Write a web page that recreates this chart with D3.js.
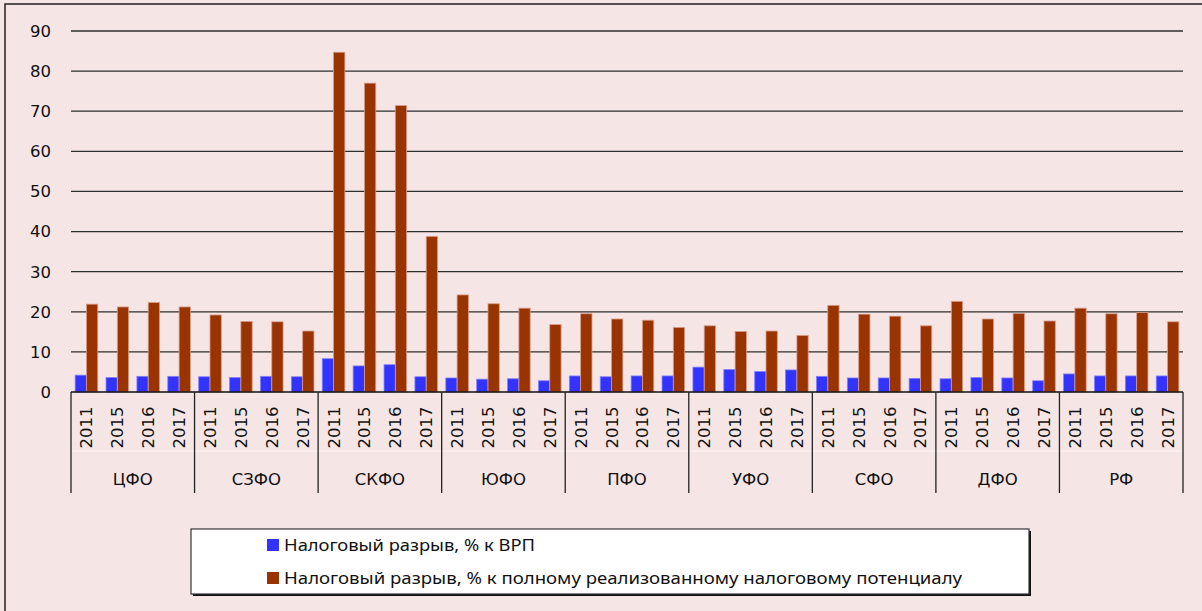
<!DOCTYPE html>
<html>
<head>
<meta charset="utf-8">
<script src="https://d3js.org/d3.v7.min.js"></script>
<style>
  body { margin: 0; background: #f5e5e5; }
  svg { display: block; }
</style>
</head>
<body>
<svg id="chart" width="1202" height="611"></svg>
<script>
// regions and years on the two-level category axis
const regions = ["ЦФО", "СЗФО", "СКФО", "ЮФО", "ПФО", "УФО", "СФО", "ДФО", "РФ"];
const years = ["2011", "2015", "2016", "2017"];

// tax gap, % of GRP (blue)
const gapGrp = [
  4.2, 3.6, 3.9, 3.9,
  3.8, 3.6, 3.9, 3.8,
  8.3, 6.5, 6.8, 3.8,
  3.5, 3.2, 3.3, 2.8,
  4.0, 3.8, 4.0, 4.0,
  6.2, 5.6, 5.1, 5.5,
  3.9, 3.5, 3.5, 3.4,
  3.3, 3.6, 3.5, 2.8,
  4.5, 4.0, 4.0, 4.0
];
// tax gap, % of full realised tax potential (brown)
const gapPotential = [
  21.9, 21.2, 22.3, 21.2,
  19.2, 17.6, 17.5, 15.2,
  84.7, 77.0, 71.4, 38.8,
  24.2, 22.0, 20.9, 16.8,
  19.5, 18.2, 17.9, 16.1,
  16.5, 15.1, 15.2, 14.1,
  21.6, 19.4, 18.9, 16.5,
  22.6, 18.2, 19.6, 17.7,
  20.9, 19.5, 19.8, 17.5
];
const yTicks = [0, 10, 20, 30, 40, 50, 60, 70, 80, 90];
const seriesNames = [
  "Налоговый разрыв, % к ВРП",
  "Налоговый разрыв, % к полному реализованному налоговому потенциалу"
];
const colors = ["#3333ff", "#993300"];

const svg = d3.select("#chart");

// outer chart frame
svg.append("rect")
  .attr("x", 5).attr("y", 4)
  .attr("width", 1210).attr("height", 620)
  .attr("fill", "#f5e5e5")
  .attr("stroke", "#222").attr("stroke-width", 1.5);

const plotL = 71, plotR = 1183, plotT = 31, base = 392;

// flatten categories
const cats = [];
regions.forEach((r, i) => years.forEach((yr, j) => {
  cats.push({ key: r + "|" + yr, region: r, year: yr, idx: i * years.length + j });
}));

const x = d3.scaleBand().domain(cats.map(d => d.key)).range([plotL, plotR]).padding(0);
const y = d3.scaleLinear().domain([0, 90]).range([base, plotT]);

// gridlines
svg.append("g").selectAll("line").data(yTicks.filter(t => t > 0)).enter()
  .append("line")
  .attr("x1", plotL).attr("x2", plotR)
  .attr("y1", d => y(d)).attr("y2", d => y(d))
  .attr("stroke", "#2e2e2e").attr("stroke-width", 1.3);

// y axis labels
svg.append("g").selectAll("text").data(yTicks).enter()
  .append("text")
  .attr("x", 51).attr("y", d => y(d))
  .attr("dy", "0.36em")
  .attr("text-anchor", "end")
  .attr("font-family", "DejaVu Sans")
  .attr("font-size", 16.5)
  .attr("fill", "#111")
  .text(d => d);

// bars
const bw = x.bandwidth();
const barW = 11.3;
const off = (bw - 2 * barW) / 2;

svg.append("g").selectAll("rect").data(cats).enter()
  .append("rect")
  .attr("x", d => x(d.key) + off)
  .attr("y", d => y(gapGrp[d.idx]))
  .attr("width", barW)
  .attr("height", d => base - y(gapGrp[d.idx]))
  .attr("fill", colors[0])
  .attr("stroke", "#8080ff").attr("stroke-width", 0.8);

svg.append("g").selectAll("rect").data(cats).enter()
  .append("rect")
  .attr("x", d => x(d.key) + off + barW)
  .attr("y", d => y(gapPotential[d.idx]))
  .attr("width", barW)
  .attr("height", d => base - y(gapPotential[d.idx]))
  .attr("fill", colors[1])
  .attr("stroke", "#d99c88").attr("stroke-width", 0.8);

// baseline
svg.append("line")
  .attr("x1", plotL).attr("x2", plotR)
  .attr("y1", base).attr("y2", base)
  .attr("stroke", "#111").attr("stroke-width", 1.5);

// faint divider between the two label rows
svg.append("line")
  .attr("x1", plotL).attr("x2", plotR)
  .attr("y1", 451).attr("y2", 451)
  .attr("stroke", "#fbf3f3").attr("stroke-width", 1);

// year labels (rotated)
svg.append("g").selectAll("text").data(cats).enter()
  .append("text")
  .attr("transform", d => "translate(" + (x(d.key) + bw / 2) + ",427.5) rotate(-90)")
  .attr("dy", "0.36em")
  .attr("text-anchor", "middle")
  .attr("font-family", "DejaVu Sans")
  .attr("font-size", 16.5)
  .attr("fill", "#111")
  .text(d => d.year);

// region separators and labels
const groupW = bw * years.length;
const seps = d3.range(regions.length + 1).map(i => plotL + i * groupW);
svg.append("g").selectAll("line").data(seps).enter()
  .append("line")
  .attr("x1", d => d).attr("x2", d => d)
  .attr("y1", base).attr("y2", 493)
  .attr("stroke", "#222").attr("stroke-width", 1.3);

svg.append("g").selectAll("text").data(regions).enter()
  .append("text")
  .attr("x", (d, i) => plotL + i * groupW + groupW / 2)
  .attr("y", 479)
  .attr("dy", "0.36em")
  .attr("text-anchor", "middle")
  .attr("font-family", "DejaVu Sans")
  .attr("font-size", 16.5)
  .attr("fill", "#111")
  .text(d => d);

// legend
const lg = svg.append("g");
lg.append("rect")
  .attr("x", 193).attr("y", 531)
  .attr("width", 838).attr("height", 65)
  .attr("fill", "#111");
lg.append("rect")
  .attr("x", 191).attr("y", 529)
  .attr("width", 838).attr("height", 65)
  .attr("fill", "#fff")
  .attr("stroke", "#333").attr("stroke-width", 1.2);

const textLens = [251, 678];
const rowBase = [551, 584];
seriesNames.forEach((name, i) => {
  lg.append("rect")
    .attr("x", 267).attr("y", rowBase[i] - 12)
    .attr("width", 12).attr("height", 12)
    .attr("fill", colors[i]);
  lg.append("text")
    .attr("x", 284).attr("y", rowBase[i])
    .attr("font-family", "Noto Sans")
    .attr("font-size", 17)
    .attr("fill", "#111")
    .attr("textLength", textLens[i])
    .attr("lengthAdjust", "spacingAndGlyphs")
    .text(name);
});
</script>
</body>
</html>
